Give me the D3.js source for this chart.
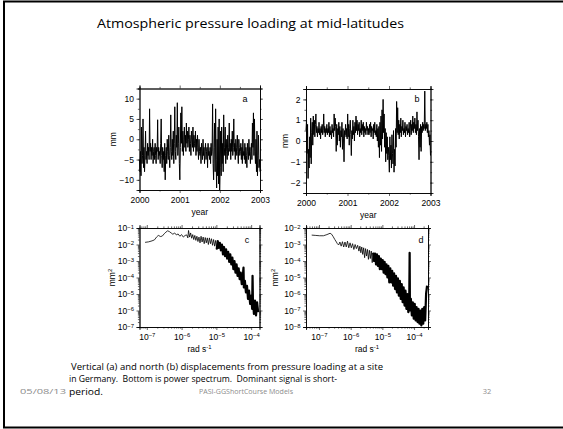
<!DOCTYPE html>
<html>
<head>
<meta charset="utf-8">
<script src="https://cdn.jsdelivr.net/npm/d3@7"></script>
<style>
body { margin: 0; background: #fff; }
svg text { font-family: "Liberation Sans", Arial, sans-serif; }
.slide text.cal { font-family: "Open Sans", "Noto Sans", sans-serif; white-space: pre; }
</style>
</head>
<body>
<svg id="chart" width="563" height="429"></svg>
<script>
// ---- data ----
var yearStart = 2000, yearEnd = 2003;
var yearTicks = [2000, 2001, 2002, 2003];

// vertical displacement (mm), about every 4.5 days
var vertMM = [
  -5, -8, -3, -9, 3, -6, -4, 5, -7, -2, -8, -4, 2, -5, -3, -6, -1, -4, -2, -5, 7.5, -3, -1, -5, -2, -4, 0, -6, -3, -2, -5, -1, -4, -6, -2, -3, 4.8, -5, -2, -4,
  -3, -6, -1, 5, -4, -7, -2, -5, -3, -8, -1, -10, -4, -2, -6, 0, -3, -5, 1, -4, -7, -2, 6, -3, -5, 0, -4, 2, -6, -1, 8, -3, -5, 1, -2, 9, -4, -1, 3, -6,
  -10, -2, 6.5, -1, 8, -3, 2, -4, 0, 3, -2, 1, -3, 4, -1, 2, -2, 0, 3, -3, 1, -1, -4, 2, 0, -2, 3, -3, 1, -1, -2, 2, -4, 0, -3, 1, -2, -5, 0, -3,
  -4, -2, -6, -1, -3, -5, 0, -4, -2, -6, -3, -1, -5, -3, -2, -7, -1, -4, -3, -5, -2, -6, -1, -4, -3, 8.7, -6, -10, -2, 4, -8, 7.5, -5, -12, 0, -9, 3, -11, 5, -12.5,
  -7, 2, -9, 3, -6, -1, -8, 6, -4, -2, 3, -6, 0, -3, -5, 1, -4, -2, 4, -3, -1, -5, 0, -3, 2, -4, -2, 5, -3, -1, -5, 0, -2, -4, 1, -3, -6, 0, -2, -4,
  -3, -1, -5, -2, -6, 0, -4, -3, -5, -1, -6, -2, -4, -7, -1, -3, -5, 0, -4, -2, -6, -3, -1, -5, 4, -2, 6.5, -4, 5, -3, -6, 0, -8, 2, -9, -4, 1, -7, -5, -8
];

// north displacement (mm)
var northMM = [
  0.5, 1.0, -0.6, 0.8, -1.8, -0.4, -1.3, 0.2, -0.8, 1.1, -1.1, 0.4, 0.9, -0.2, 1.2, 0.3, 1.0, 0.2, 0.8, 1.3, 0.4, 0.7, 0.2, 0.6, 0.4, 0.9, 0.3, 0.6, 0.1, 0.7, 0.4, 0.8, 0.3, 0.5, 1.3, 0.4, 0.7, 0.2, 0.6, 0.4,
  0.8, 0.3, 0.6, 0.4, 0.9, 0.2, 0.7, 0.3, 0.5, 0.1, 0.8, 0.4, 0.6, 0.2, 1.3, 0.5, 1.1, 0.7, -0.5, 0.8, -0.2, 0.6, 0.3, 0.9, 0.0, 0.7, -0.3, 0.5, 0.2, 0.9, -0.4, 0.6, 0.1, -1.0, 0.5, 0.3, 0.8, 0.2, 0.6, 0.1,
  1.3, 0.2, 0.8, -0.2, 0.6, 1.0, 0.3, -0.7, 0.5, 0.1, 1.0, 0.3, 0.7, 0.0, 0.9, 0.4, 1.2, 0.5, 1.0, 0.3, 0.8, 0.5, 0.9, 0.2, 0.6, 0.4, 1.0, 0.3, 0.8, 0.5, 0.9, 0.2, 0.7, 0.4, 0.6, 0.3, 0.9, 0.5, 0.7, 0.3,
  0.6, 0.3, 0.8, 0.4, 0.9, 0.2, 0.7, 0.5, 0.6, 0.1, 0.8, 0.4, 0.9, 0.3, 0.5, 0.2, 0.8, 0.0, 0.6, -0.3, 0.7, -0.8, 0.9, -0.2, 1.2, -0.5, 1.5, 0.1, 2.0, 0.4, 1.3, -0.3, 0.6, -1.0, 0.4, -0.6, 0.2, -0.9, -0.3, -0.7,
  -1.5, 0.2, -0.9, -0.2, -1.3, 0.3, -0.6, -1.1, 0.5, -1.5, -0.4, -1.2, 0.6, -0.3, 1.9, 0.4, 1.6, 0.3, 1.0, 0.1, 0.8, 0.4, 1.1, 0.2, 0.7, 0.5, 1.0, 0.3, 0.6, 0.4, 0.9, 0.2, 0.7, 0.5, 0.8, 0.3, 0.6, 0.4, 0.9, 0.2,
  0.5, 1.0, 0.3, 0.8, 0.5, 1.2, 0.4, 0.9, 0.6, 1.1, 0.4, 0.8, 0.3, 1.4, 0.5, 1.0, 0.2, -0.9, 0.6, -0.3, 0.8, -0.5, 0.7, 0.4, 0.9, 0.5, 0.8, 0.6, 2.4, 0.5, 0.8, 0.6, 0.9, 0.4, 0.8, 0.2, 0.5, -0.2, 0.3, -0.7
];

// power spectra as [log10 rad/s, log10 mm^2]
var specVert = [
  [-7.05,-1.87],[-6.95,-1.84],[-6.85,-1.78],[-6.78,-1.72],[-6.72,-1.55],[-6.67,-1.45],[-6.6,-1.52],[-6.55,-1.48],[-6.5,-1.35],[-6.45,-1.25],
  [-6.4,-1.17],[-6.35,-1.22],[-6.3,-1.3],[-6.25,-1.38],[-6.2,-1.3],[-6.15,-1.42],[-6.1,-1.36],[-6.05,-1.5],[-6.0,-1.4],[-5.95,-1.55],
  [-5.9,-1.45],[-5.85,-1.42],[-5.82,-1.6],[-5.8,-1.15],[-5.77,-1.55],[-5.74,-1.3],[-5.71,-1.62],[-5.68,-1.4],[-5.65,-1.7],[-5.62,-1.45],
  [-5.59,-1.75],[-5.56,-1.5],[-5.53,-1.82],[-5.5,-1.55],[-5.47,-1.9],[-5.44,-1.5],[-5.41,-1.85],[-5.38,-1.55],[-5.35,-1.95],[-5.32,-1.58],
  [-5.29,-1.9],[-5.26,-1.6],[-5.23,-2.0],[-5.2,-1.6],[-5.17,-1.95],[-5.14,-1.65],[-5.11,-2.05],[-5.08,-1.7],[-5.05,-2.1],[-5.02,-1.75],
  [-4.99,-2.3],[-4.96,-1.8],[-4.93,-2.2],[-4.9,-1.9],[-4.87,-2.35],[-4.84,-2.0],[-4.81,-2.6],[-4.78,-2.15],[-4.75,-2.7],[-4.72,-2.3],
  [-4.69,-2.85],[-4.66,-2.45],[-4.63,-3.05],[-4.6,-2.6],[-4.57,-3.2],[-4.54,-2.8],[-4.51,-3.5],[-4.48,-3.0],[-4.45,-3.7],[-4.42,-3.2],
  [-4.39,-3.9],[-4.36,-3.45],[-4.33,-4.1],[-4.3,-3.7],[-4.27,-4.4],[-4.24,-3.95],[-4.22,-3.4],[-4.21,-4.6],[-4.18,-4.2],[-4.15,-4.9],
  [-4.12,-4.5],[-4.09,-5.3],[-4.06,-4.8],[-4.03,-5.6],[-4.0,-5.1],[-3.97,-5.9],[-3.96,-3.9],[-3.95,-5.3],[-3.92,-6.2],[-3.89,-5.4],
  [-3.86,-6.3],[-3.83,-5.5],[-3.8,-6.1]
];
var specNorth = [
  [-7.23,-2.43],[-7.1,-2.45],[-6.98,-2.47],[-6.86,-2.47],[-6.75,-2.4],[-6.65,-2.32],[-6.6,-2.38],[-6.55,-2.53],[-6.5,-2.7],[-6.45,-2.85],
  [-6.42,-2.95],[-6.38,-3.03],[-6.34,-2.85],[-6.3,-3.1],[-6.26,-2.83],[-6.22,-3.15],[-6.18,-2.85],[-6.14,-3.15],[-6.1,-2.8],[-6.06,-3.2],
  [-6.02,-2.9],[-5.98,-3.2],[-5.94,-2.95],[-5.9,-3.3],[-5.86,-3.0],[-5.82,-3.25],[-5.78,-3.05],[-5.74,-3.4],[-5.71,-3.1],[-5.68,-3.5],
  [-5.65,-3.15],[-5.62,-3.6],[-5.59,-3.2],[-5.56,-3.8],[-5.53,-3.25],[-5.5,-3.7],[-5.47,-3.3],[-5.44,-3.9],[-5.41,-3.35],[-5.38,-3.85],
  [-5.35,-3.4],[-5.32,-4.1],[-5.29,-3.5],[-5.26,-4.0],[-5.23,-3.55],[-5.2,-4.2],[-5.17,-3.6],[-5.14,-4.3],[-5.11,-3.7],[-5.08,-4.5],
  [-5.05,-3.85],[-5.02,-4.5],[-4.99,-3.95],[-4.96,-4.7],[-4.93,-4.05],[-4.9,-4.8],[-4.87,-4.2],[-4.84,-5.0],[-4.81,-4.3],[-4.78,-5.3],
  [-4.75,-4.45],[-4.72,-5.3],[-4.69,-4.6],[-4.66,-5.5],[-4.63,-4.75],[-4.6,-5.7],[-4.57,-4.9],[-4.54,-5.9],[-4.51,-5.05],[-4.48,-6.1],
  [-4.45,-5.2],[-4.42,-6.3],[-4.39,-5.4],[-4.36,-6.5],[-4.33,-5.6],[-4.3,-6.7],[-4.27,-5.8],[-4.24,-6.9],[-4.21,-6.0],[-4.18,-7.1],
  [-4.15,-6.2],[-4.14,-3.5],[-4.13,-7.0],[-4.1,-6.3],[-4.07,-7.3],[-4.04,-6.5],[-4.01,-7.5],[-3.98,-6.6],[-3.95,-7.6],[-3.92,-6.8],
  [-3.89,-7.7],[-3.86,-6.9],[-3.83,-7.8],[-3.8,-7.0],[-3.77,-7.9],[-3.74,-6.9],[-3.71,-7.8],[-3.68,-6.8],[-3.65,-7.6],[-3.62,-6.0],
  [-3.59,-5.5]
];

var freqTicks = [-7, -6, -5, -4];

// ---- drawing ----
var svg = d3.select("#chart").attr("class", "slide");

svg.append("rect")
  .attr("x", 4).attr("y", 1.5)
  .attr("width", 570).attr("height", 426)
  .attr("fill", "none").attr("stroke", "#000").attr("stroke-width", 2);

function txt(x, y, s, size, opt) {
  opt = opt || {};
  var t = svg.append("text")
    .attr("class", "cal")
    .attr("x", x).attr("y", y)
    .attr("font-size", size)
    .attr("fill", opt.fill || "#000")
    .attr("text-anchor", opt.anchor || "start")
    .text(s);
  if (opt.width) t.attr("textLength", opt.width).attr("lengthAdjust", "spacingAndGlyphs");
  return t;
}

txt(97, 28, "Atmospheric pressure loading at mid-latitudes", 12.5, {width: 307});
txt(71, 369.5, "Vertical (a) and north (b) displacements from pressure loading at a site", 9.8, {width: 312});
txt(69, 382, "in Germany.  Bottom is power spectrum.  Dominant signal is short-", 9.8, {width: 268});
txt(69, 394.5, "period.", 9.8, {width: 34});
txt(20, 394, "05/08/13", 7.5, {width: 46, fill: "#8c8c8c"});
txt(246, 394, "PASI-GGShortCourse Models", 6.8, {width: 94, fill: "#8c8c8c", anchor: "middle"});
txt(487, 394, "32", 7.5, {fill: "#8c8c8c", anchor: "middle"});

function styleAxis(g) {
  g.select(".domain").attr("stroke", "#000").attr("stroke-width", 0.8);
  g.selectAll(".tick line").attr("stroke", "#000").attr("stroke-width", 0.6);
  g.selectAll("text").attr("font-size", 8.5).attr("fill", "#000")
    .attr("font-family", "'Liberation Sans', Arial, sans-serif");
}

function powText(sel) {
  sel.each(function(d) {
    var t = d3.select(this);
    t.text(null);
    t.append("tspan").text("10");
    t.append("tspan").attr("dy", "-0.45em").attr("font-size", "0.7em").text(d3.format("d")(Math.round(Math.log10(d))));
  });
}

function drawFrame(g, x, y, o) {
  var W = x.range()[1], H = y.range()[0];
  // minor ticks
  [[d3.axisBottom(x), "0," + H, o.xMinor], [d3.axisTop(x), "0,0", o.xMinor],
   [d3.axisLeft(y), "0,0", o.yMinor], [d3.axisRight(y), W + ",0", o.yMinor]].forEach(function(a) {
    g.append("g").attr("transform", "translate(" + a[1] + ")")
      .call(a[0].tickValues(a[2]).tickSize(1.6).tickFormat(""))
      .call(styleAxis);
  });
  // major ticks
  var xb = g.append("g").attr("transform", "translate(0," + H + ")")
    .call(d3.axisBottom(x).tickValues(o.xMajor).tickSize(3).tickPadding(o.xPad).tickFormat(o.xFmt))
    .call(styleAxis);
  g.append("g").call(d3.axisTop(x).tickValues(o.xMajor).tickSize(3).tickFormat("")).call(styleAxis);
  var yl = g.append("g")
    .call(d3.axisLeft(y).tickValues(o.yMajor).tickSize(3).tickPadding(2.5).tickFormat(o.yFmt))
    .call(styleAxis);
  g.append("g").attr("transform", "translate(" + W + ",0)")
    .call(d3.axisRight(y).tickValues(o.yMajor).tickSize(3).tickFormat("")).call(styleAxis);
  if (o.log) {
    xb.selectAll(".tick text").call(powText);
    yl.selectAll(".tick text").call(powText);
  }
}

function logMinor(lo, hi) {
  var v = [];
  for (var e = lo; e < hi; e++) for (var k = 2; k <= 9; k++) v.push(k * Math.pow(10, e));
  return v;
}

// time series panels
var tsPanels = [
  {data: vertMM, x0: 139.5, x1: 260, y0: 88.5, y1: 190, dom: [-12.5, 12.5], major: [-10, -5, 0, 5, 10], minor: d3.range(-12.5, 12.6, 2.5), tag: "a", tagX: 245, lab: 113},
  {data: northMM, x0: 306, x1: 430.5, y0: 89, y1: 193, dom: [-2.5, 2.5], major: [-2, -1, 0, 1, 2], minor: d3.range(-2.5, 2.6, 0.5), tag: "b", tagX: 417, lab: 285}
];

tsPanels.forEach(function(p) {
  var g = svg.append("g").attr("transform", "translate(" + p.x0 + "," + p.y0 + ")");
  var W = p.x1 - p.x0, H = p.y1 - p.y0;
  var x = d3.scaleLinear().domain([yearStart, yearEnd]).range([0, W]);
  var y = d3.scaleLinear().domain(p.dom).range([H, 0]);
  var n = p.data.length;
  var line = d3.line()
    .x(function(d, i) { return x(yearStart + i * (yearEnd - yearStart) / (n - 1)); })
    .y(function(d) { return y(d); });
  g.append("path").datum(p.data)
    .attr("fill", "none").attr("stroke", "#000").attr("stroke-width", 1.0)
    .attr("stroke-linejoin", "round")
    .attr("d", line);
  drawFrame(g, x, y, {
    xMajor: yearTicks, xMinor: [2000.5, 2001.5, 2002.5], xFmt: d3.format("d"), xPad: 4,
    yMajor: p.major, yMinor: p.minor, yFmt: d3.format("d")
  });
  g.append("text").attr("x", W * 0.5).attr("y", H + 25).attr("text-anchor", "middle")
    .attr("font-size", 8.5).text("year");
  g.append("text").attr("transform", "translate(" + (p.lab - p.x0) + "," + (H / 2) + ") rotate(-90)")
    .attr("text-anchor", "middle").attr("dy", "0.35em").attr("font-size", 8.5).text("mm");
  g.append("text").attr("x", p.tagX - p.x0).attr("y", 13).attr("text-anchor", "middle")
    .attr("font-family", "'Liberation Serif', serif").attr("font-size", 9).text(p.tag);
});

// spectrum panels
var specPanels = [
  {data: specVert, x0: 139.5, x1: 259.5, y0: 228, y1: 327, xdom: [-7.21, -3.76], ydom: [-7, -1], dense: -5.0, tag: "c", tagX: 247, lab: 112},
  {data: specNorth, x0: 306, x1: 428, y0: 228, y1: 327, xdom: [-7.41, -3.56], ydom: [-8, -2], dense: -5.3, tag: "d", tagX: 421, lab: 275}
];

specPanels.forEach(function(p) {
  var g = svg.append("g").attr("transform", "translate(" + p.x0 + "," + p.y0 + ")");
  var W = p.x1 - p.x0, H = p.y1 - p.y0;
  var x = d3.scaleLog().domain(p.xdom.map(function(e) { return Math.pow(10, e); })).range([0, W]);
  var y = d3.scaleLog().domain(p.ydom.map(function(e) { return Math.pow(10, e); })).range([H, 0]);
  var line = d3.line()
    .x(function(d) { return x(Math.pow(10, d[0])); })
    .y(function(d) { return y(Math.pow(10, d[1])); });
  g.append("path").datum(p.data)
    .attr("fill", "none").attr("stroke", "#000").attr("stroke-width", 0.8)
    .attr("stroke-linejoin", "round")
    .attr("d", line);
  // the high-frequency part is a solid black band in the original
  g.append("path").datum(p.data.filter(function(d) { return d[0] >= p.dense; }))
    .attr("fill", "none").attr("stroke", "#000").attr("stroke-width", 2.2)
    .attr("stroke-linejoin", "round")
    .attr("d", line);
  var yMajor = d3.range(p.ydom[0], p.ydom[1] + 1).map(function(e) { return Math.pow(10, e); });
  drawFrame(g, x, y, {
    log: true,
    xMajor: freqTicks.map(function(e) { return Math.pow(10, e); }),
    xMinor: logMinor(-8, -3).filter(function(v) { return v >= x.domain()[0] && v <= x.domain()[1]; }),
    xFmt: d3.format(".0e"), xPad: 4,
    yMajor: yMajor, yMinor: logMinor(p.ydom[0], p.ydom[1]), yFmt: d3.format(".0e")
  });
  var rl = g.append("text").attr("x", W * 0.5).attr("y", H + 25).attr("text-anchor", "middle")
    .attr("font-size", 8.5);
  rl.append("tspan").text("rad s");
  rl.append("tspan").attr("dy", "-0.45em").attr("font-size", "0.7em").text("-1");
  var ml = g.append("text").attr("transform", "translate(" + (p.lab - p.x0) + "," + (H / 2) + ") rotate(-90)")
    .attr("text-anchor", "middle").attr("dy", "0.35em").attr("font-size", 8.5);
  ml.append("tspan").text("mm");
  ml.append("tspan").attr("dy", "-0.45em").attr("font-size", "0.7em").text("2");
  g.append("text").attr("x", p.tagX - p.x0).attr("y", 15).attr("text-anchor", "middle")
    .attr("font-family", "'Liberation Serif', serif").attr("font-size", 9).text(p.tag);
});
</script>
</body>
</html>
